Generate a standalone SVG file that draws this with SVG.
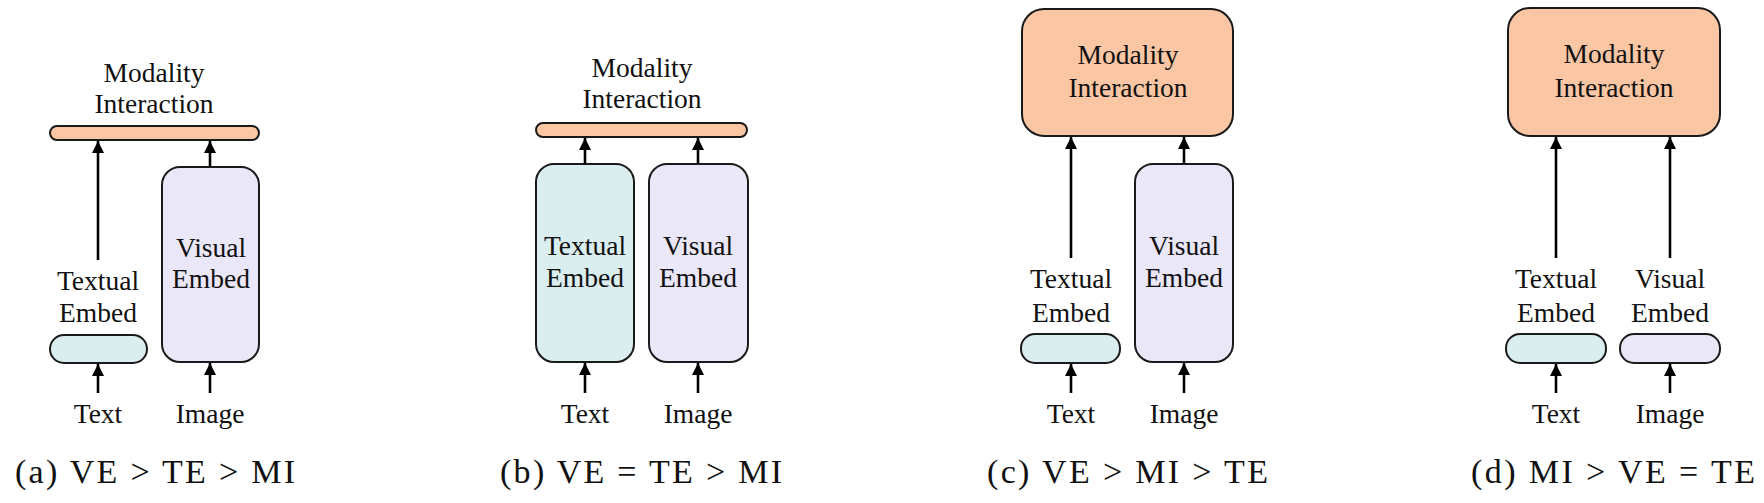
<svg xmlns="http://www.w3.org/2000/svg" width="1764" height="503" viewBox="0 0 1764 503">
<defs>
<marker id="ah" viewBox="0 0 12 12" refX="12" refY="6" markerWidth="12" markerHeight="12" markerUnits="userSpaceOnUse" orient="auto">
<path d="M0,0 L12,6 L0,12 Z" fill="#000"/>
</marker>
<style>
.mi{fill:#FBC6A4;stroke:#1a1a1a;stroke-width:2}
.te{fill:#DAEEF0;stroke:#1a1a1a;stroke-width:2}
.ve{fill:#EAE7F8;stroke:#1a1a1a;stroke-width:2}
.lb{font-size:27.5px;fill:#111;text-anchor:middle}
.cap{font-size:34px;fill:#111}
.ar{stroke:#000;stroke-width:2.6;fill:none;marker-end:url(#ah)}
</style>
</defs>
<rect width="1764" height="503" fill="#fff"/>
<g font-family="'Liberation Serif', 'DejaVu Serif', serif">
<!-- Panel (a) -->
<g id="a-mi"><rect class="mi" x="50" y="126" width="209" height="14" rx="7"/>
<text class="lb" x="154" y="82">Modality</text><text class="lb" x="154" y="113">Interaction</text></g>
<g id="a-ve"><rect class="ve" x="162" y="167" width="97" height="195" rx="18"/>
<text class="lb" x="211" y="257">Visual</text><text class="lb" x="211" y="288">Embed</text></g>
<g id="a-te"><rect class="te" x="50" y="335" width="97" height="28" rx="14"/>
<text class="lb" x="98" y="290">Textual</text><text class="lb" x="98" y="322">Embed</text></g>
<g id="a-in"><text class="lb" x="98" y="423">Text</text><text class="lb" x="210" y="423">Image</text></g>
<text class="cap" x="15" y="483" textLength="280" lengthAdjust="spacing">(a) VE &gt; TE &gt; MI</text>

<!-- Panel (b) -->
<g id="b-mi"><rect class="mi" x="536" y="123" width="211" height="14" rx="7"/>
<text class="lb" x="642" y="77">Modality</text><text class="lb" x="642" y="108">Interaction</text></g>
<g id="b-te"><rect class="te" x="536" y="164" width="98" height="198" rx="18"/>
<text class="lb" x="585" y="255">Textual</text><text class="lb" x="585" y="287">Embed</text></g>
<g id="b-ve"><rect class="ve" x="649" y="164" width="99" height="198" rx="18"/>
<text class="lb" x="698" y="255">Visual</text><text class="lb" x="698" y="287">Embed</text></g>
<g id="b-in"><text class="lb" x="585" y="423">Text</text><text class="lb" x="698" y="423">Image</text></g>
<text class="cap" x="500" y="483" textLength="282" lengthAdjust="spacing">(b) VE = TE &gt; MI</text>

<!-- Panel (c) -->
<g id="c-mi"><rect class="mi" x="1022" y="9" width="211" height="127" rx="22"/>
<text class="lb" x="1128" y="64">Modality</text><text class="lb" x="1128" y="97">Interaction</text></g>
<g id="c-ve"><rect class="ve" x="1135" y="164" width="98" height="198" rx="18"/>
<text class="lb" x="1184" y="255">Visual</text><text class="lb" x="1184" y="287">Embed</text></g>
<g id="c-te"><rect class="te" x="1021" y="334" width="99" height="29" rx="14"/>
<text class="lb" x="1071" y="288">Textual</text><text class="lb" x="1071" y="322">Embed</text></g>
<g id="c-in"><text class="lb" x="1071" y="423">Text</text><text class="lb" x="1184" y="423">Image</text></g>
<text class="cap" x="987" y="483" textLength="281" lengthAdjust="spacing">(c) VE &gt; MI &gt; TE</text>

<!-- Panel (d) -->
<g id="d-mi"><rect class="mi" x="1508" y="8" width="212" height="128" rx="22"/>
<text class="lb" x="1614" y="63">Modality</text><text class="lb" x="1614" y="97">Interaction</text></g>
<g id="d-te"><rect class="te" x="1506" y="334" width="100" height="29" rx="14"/>
<text class="lb" x="1556" y="288">Textual</text><text class="lb" x="1556" y="322">Embed</text></g>
<g id="d-ve"><rect class="ve" x="1620" y="334" width="100" height="29" rx="14"/>
<text class="lb" x="1670" y="288">Visual</text><text class="lb" x="1670" y="322">Embed</text></g>
<g id="d-in"><text class="lb" x="1556" y="423">Text</text><text class="lb" x="1670" y="423">Image</text></g>
<text class="cap" x="1471" y="483" textLength="284" lengthAdjust="spacing">(d) MI &gt; VE = TE</text>
</g>
<g id="connectors">
<line class="ar" x1="98" y1="260" x2="98" y2="141"/>
<line class="ar" x1="210" y1="167" x2="210" y2="141"/>
<line class="ar" x1="98" y1="393" x2="98" y2="364"/>
<line class="ar" x1="210" y1="393" x2="210" y2="363"/>

<line class="ar" x1="585" y1="164" x2="585" y2="138"/>
<line class="ar" x1="698" y1="164" x2="698" y2="138"/>
<line class="ar" x1="585" y1="393" x2="585" y2="363"/>
<line class="ar" x1="698" y1="393" x2="698" y2="363"/>

<line class="ar" x1="1071" y1="258" x2="1071" y2="137"/>
<line class="ar" x1="1184" y1="164" x2="1184" y2="137"/>
<line class="ar" x1="1071" y1="393" x2="1071" y2="364"/>
<line class="ar" x1="1184" y1="393" x2="1184" y2="363"/>

<line class="ar" x1="1556" y1="258" x2="1556" y2="137"/>
<line class="ar" x1="1670" y1="258" x2="1670" y2="137"/>
<line class="ar" x1="1556" y1="393" x2="1556" y2="364"/>
<line class="ar" x1="1670" y1="393" x2="1670" y2="364"/>
</g>
</svg>
